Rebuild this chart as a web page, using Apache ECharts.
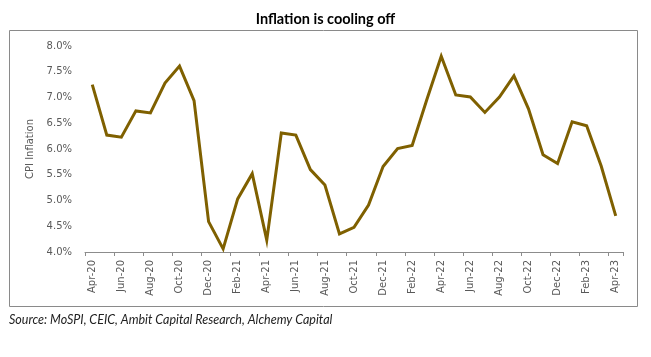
<!DOCTYPE html>
<html>
<head>
<meta charset="utf-8">
<script src="https://cdn.jsdelivr.net/npm/echarts@6/dist/echarts.min.js"></script>
<style>
html,body{margin:0;padding:0;background:#fff;}
#chart{width:651px;height:357px;}
</style>
</head>
<body>
<div id="chart"></div>
<script>
const months = ['Apr-20','May-20','Jun-20','Jul-20','Aug-20','Sep-20','Oct-20','Nov-20','Dec-20',
  'Jan-21','Feb-21','Mar-21','Apr-21','May-21','Jun-21','Jul-21','Aug-21','Sep-21','Oct-21','Nov-21','Dec-21',
  'Jan-22','Feb-22','Mar-22','Apr-22','May-22','Jun-22','Jul-22','Aug-22','Sep-22','Oct-22','Nov-22','Dec-22',
  'Jan-23','Feb-23','Mar-23','Apr-23'];
const cpi = [7.25,6.27,6.23,6.74,6.70,7.28,7.61,6.94,4.59,
  4.06,5.03,5.52,4.23,6.31,6.27,5.60,5.30,4.35,4.48,4.91,5.66,
  6.01,6.07,6.95,7.80,7.05,7.01,6.71,7.01,7.42,6.78,5.89,5.72,
  6.53,6.45,5.67,4.70];
const titleText = 'Inflation is cooling off';
const sourceText = 'Source: MoSPI, CEIC, Ambit Capital Research, Alchemy Capital';

const chart = echarts.init(document.getElementById('chart'), null, {renderer:'canvas'});
chart.setOption({
  animation: false,
  backgroundColor: '#fff',
  title: {
    text: titleText,
    left: 'center',
    top: 7,
    textStyle: {fontFamily: 'Lato', fontWeight: 'bold', fontSize: 14.5, color: '#000'}
  },
  graphic: [
    {type: 'rect', shape: {x: 9.5, y: 30.5, width: 628, height: 276}, style: {fill: 'none', stroke: '#8a8a8a', lineWidth: 1}, z: -1},
    {type: 'text', left: 9, top: 313, style: {text: sourceText, font: 'italic 12.5px Lato', fill: '#222'}}
  ],
  grid: {left: 85, right: 28, top: 46, bottom: 105},
  xAxis: {
    type: 'category',
    data: months,
    boundaryGap: true,
    axisLine: {lineStyle: {color: '#8c8c8c', width: 1}},
    axisTick: {show: true, interval: 1, length: 4, lineStyle: {color: '#8c8c8c'}},
    axisLabel: {interval: 1, rotate: 90, margin: 8, fontFamily: 'DejaVu Sans', fontSize: 10, color: '#595959'},
    splitLine: {show: false}
  },
  yAxis: {
    type: 'value',
    min: 4, max: 8, interval: 0.5,
    name: 'CPI Inflation',
    nameLocation: 'middle',
    nameGap: 37,
    nameTextStyle: {fontFamily: 'DejaVu Sans', fontSize: 10, color: '#595959'},
    axisLine: {show: false},
    axisTick: {show: false},
    splitLine: {show: false},
    axisLabel: {margin: 13, fontFamily: 'DejaVu Sans', fontSize: 10, color: '#595959',
      formatter: v => v.toFixed(1) + '%'}
  },
  series: [{
    type: 'line',
    data: cpi,
    symbol: 'none',
    lineStyle: {color: '#7f6000', width: 3, join: 'miter'},
    itemStyle: {color: '#7f6000'}
  }]
});
</script>
</body>
</html>
